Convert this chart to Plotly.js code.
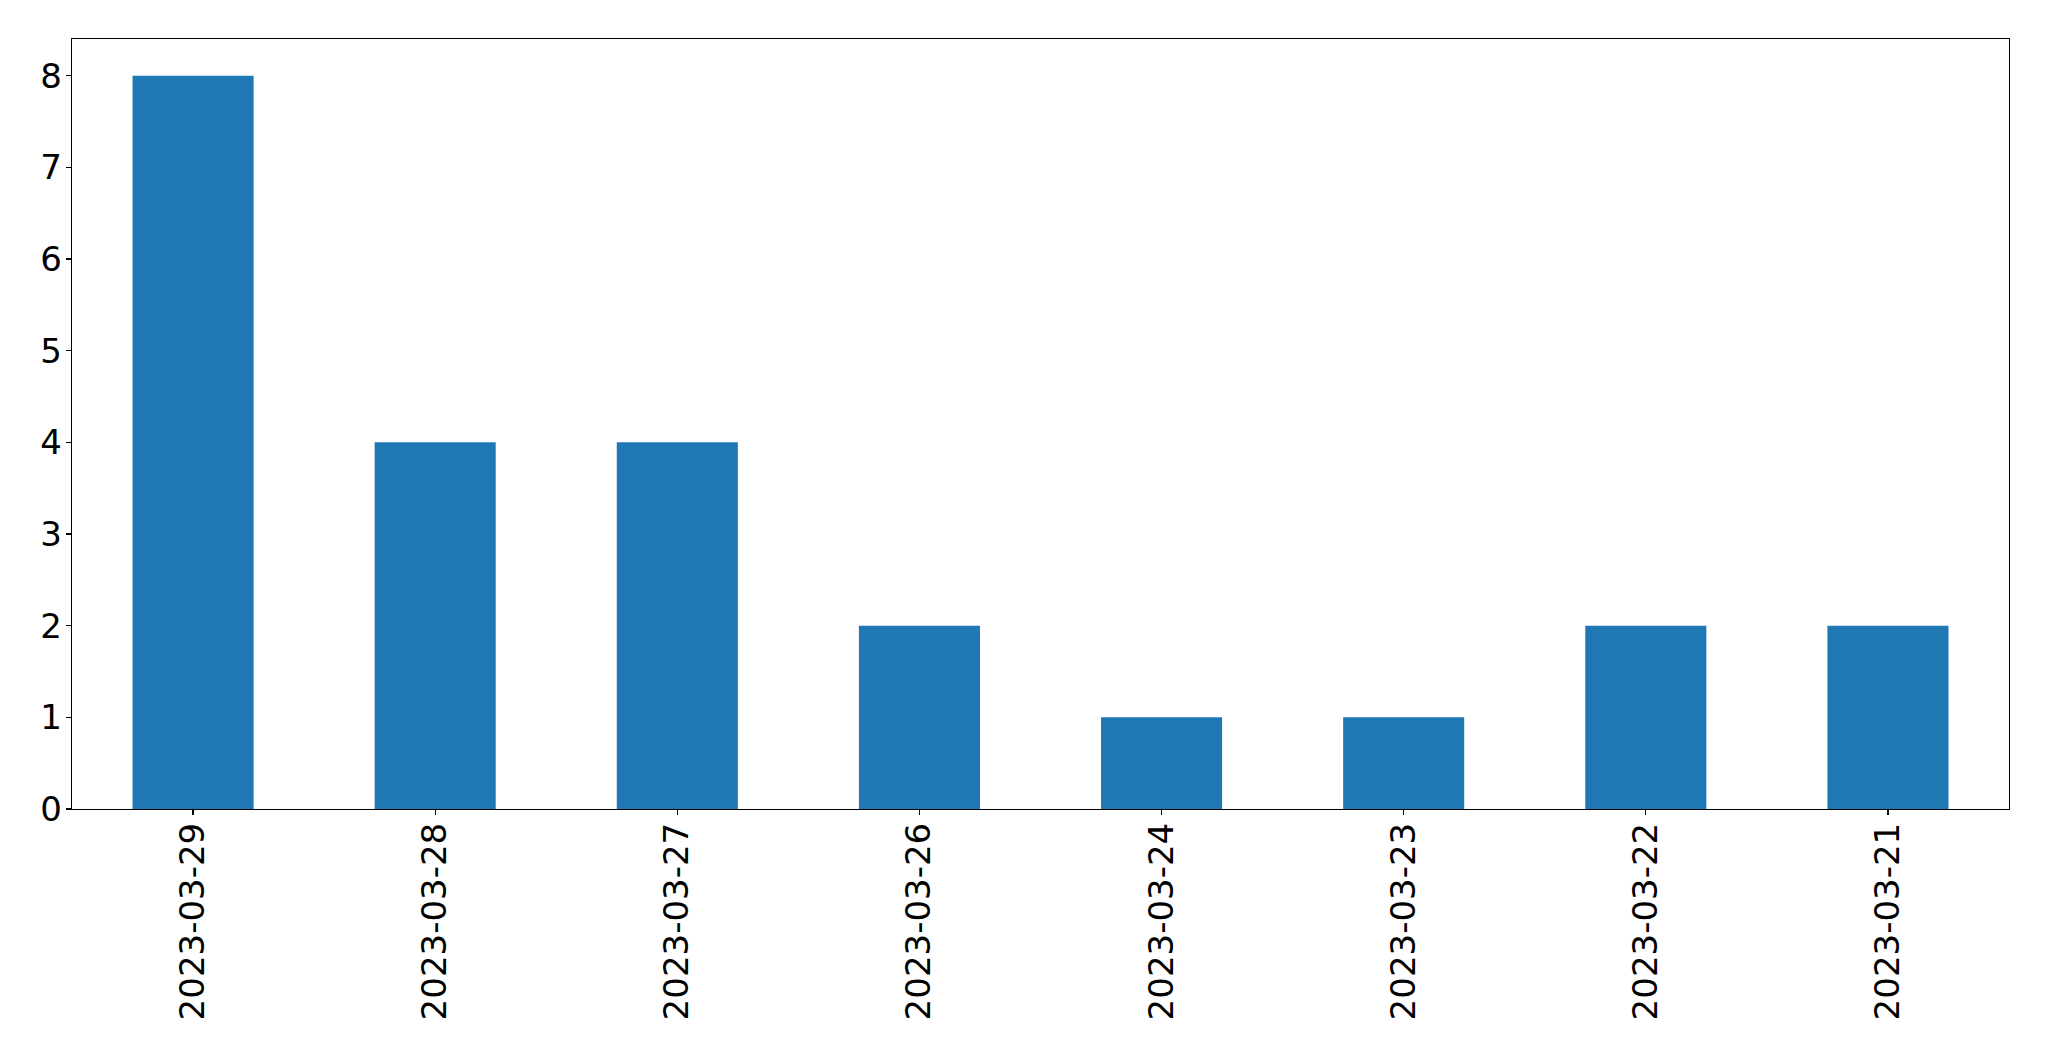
<!DOCTYPE html>
<html>
<head>
<meta charset="utf-8">
<script src="https://cdn.plot.ly/plotly-3.0.1.min.js"></script>
<style>html,body{margin:0;padding:0;background:#fff;}</style>
</head>
<body>
<div id="chart" style="width:2049px;height:1061px;"></div>
<script>
const dates = ["2023-03-29","2023-03-28","2023-03-27","2023-03-26","2023-03-24","2023-03-23","2023-03-22","2023-03-21"];
const counts = [8, 4, 4, 2, 1, 1, 2, 2];
const yTicks = [0,1,2,3,4,5,6,7,8];

const trace = {
  type: 'bar',
  x: dates,
  y: counts,
  marker: {color: '#1f77b4', line: {width: 0}},
  hoverinfo: 'x+y'
};

const layout = {
  width: 2049,
  height: 1061,
  autosize: false,
  margin: {l: 72, r: 40, t: 39, b: 252, pad: 0},
  paper_bgcolor: '#ffffff',
  plot_bgcolor: '#ffffff',
  showlegend: false,
  bargap: 0.5,
  font: {family: 'DejaVu Sans', color: '#000000', size: 34},
  xaxis: {
    type: 'category',
    range: [-0.5, 7.5],
    showgrid: false,
    zeroline: false,
    showline: true,
    linecolor: '#000000',
    linewidth: 1.2,
    mirror: true,
    ticks: 'outside',
    ticklen: 5,
    tickwidth: 1.2,
    tickcolor: '#000000',
    tickangle: -90,
    ticklabelstandoff: -6,
    tickfont: {family: 'DejaVu Sans', size: 34, color: '#000000'}
  },
  yaxis: {
    range: [0, 8.4],
    tickvals: yTicks,
    ticktext: yTicks.map(String),
    showgrid: false,
    zeroline: false,
    showline: true,
    linecolor: '#000000',
    linewidth: 1.2,
    mirror: true,
    ticks: 'outside',
    ticklen: 5,
    tickwidth: 1.2,
    tickcolor: '#000000',
    ticklabelstandoff: -3,
    tickfont: {family: 'DejaVu Sans', size: 34, color: '#000000'}
  }
};

Plotly.newPlot('chart', [trace], layout, {staticPlot: true, displayModeBar: false});
</script>
</body>
</html>
